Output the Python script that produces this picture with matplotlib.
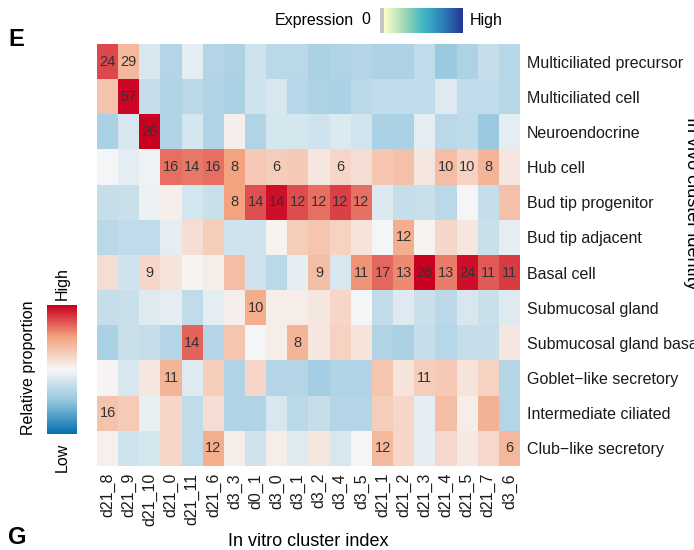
import matplotlib.pyplot as plt
import numpy as np
from matplotlib.colors import LinearSegmentedColormap

plt.rcParams['font.family'] = ['Liberation Sans', 'DejaVu Sans']

col_labels = ['d21_8', 'd21_9', 'd21_10', 'd21_0', 'd21_11', 'd21_6', 'd3_3', 'd0_1',
              'd3_0', 'd3_1', 'd3_2', 'd3_4', 'd3_5', 'd21_1', 'd21_2', 'd21_3',
              'd21_4', 'd21_5', 'd21_7', 'd3_6']
row_labels = ['Multiciliated precursor', 'Multiciliated cell', 'Neuroendocrine', 'Hub cell',
              'Bud tip progenitor', 'Bud tip adjacent', 'Basal cell', 'Submucosal gland',
              'Submucosal gland basal', 'Goblet\u2212like secretory', 'Intermediate ciliated',
              'Club\u2212like secretory']

# relative proportion (scaled, -1 low .. 1 high)
values = [
    [0.78, 0.38, -0.15, -0.33, -0.10, -0.33, -0.36, -0.20, -0.30, -0.30, -0.38, -0.35, -0.33, -0.36, -0.36, -0.27, -0.45, -0.36, -0.25, -0.32],
    [0.32, 0.98, -0.25, -0.35, -0.30, -0.35, -0.37, -0.20, -0.15, -0.32, -0.36, -0.37, -0.30, -0.27, -0.27, -0.27, -0.12, -0.27, -0.27, -0.32],
    [-0.37, -0.15, 1.00, -0.35, -0.17, -0.35, 0.05, -0.35, -0.17, -0.17, -0.20, -0.14, -0.18, -0.37, -0.37, -0.10, -0.30, -0.28, -0.45, -0.10],
    [-0.02, -0.10, -0.04, 0.66, 0.63, 0.66, 0.50, 0.28, 0.25, 0.28, 0.10, 0.20, 0.15, 0.30, 0.33, 0.10, 0.35, 0.22, 0.40, 0.10],
    [-0.25, -0.22, -0.05, 0.05, -0.17, -0.22, 0.50, 0.75, 0.95, 0.76, 0.66, 0.80, 0.65, -0.13, -0.25, -0.22, -0.30, -0.02, -0.25, 0.33],
    [-0.30, -0.27, -0.27, -0.10, 0.15, 0.25, -0.20, -0.20, 0.03, 0.25, 0.30, 0.22, 0.12, -0.02, 0.45, 0.03, 0.20, 0.10, -0.22, -0.10],
    [0.15, -0.20, 0.20, 0.12, 0.02, 0.06, 0.35, -0.20, -0.30, -0.10, 0.35, -0.15, 0.55, 0.68, 0.58, 1.00, 0.62, 0.95, 0.72, 0.82],
    [-0.25, -0.22, -0.12, -0.10, -0.27, -0.10, 0.05, 0.45, 0.06, 0.06, 0.10, 0.20, -0.02, -0.27, -0.12, -0.22, -0.30, -0.15, -0.22, -0.12],
    [-0.37, -0.22, -0.25, -0.33, 0.70, -0.33, 0.30, -0.02, 0.06, 0.40, 0.10, 0.22, 0.12, -0.35, -0.37, -0.25, -0.32, -0.25, -0.25, 0.10],
    [0.02, -0.15, 0.10, 0.40, -0.12, 0.25, -0.35, 0.20, -0.33, -0.33, -0.42, -0.35, -0.35, 0.30, 0.12, 0.25, 0.28, 0.12, 0.22, -0.33],
    [0.32, 0.27, -0.07, 0.20, -0.27, 0.15, -0.35, -0.35, -0.15, -0.30, -0.25, -0.33, -0.33, 0.25, 0.20, -0.10, 0.35, 0.06, 0.42, -0.33],
    [0.04, -0.20, -0.17, 0.20, -0.27, 0.45, 0.06, -0.20, 0.06, -0.12, 0.10, -0.15, -0.02, 0.38, 0.20, -0.10, 0.18, 0.08, 0.18, 0.38],
]

# numbers printed in the cells (0 = none)
counts = [
    [24, 29, 0, 0, 0, 0, 0, 0, 0, 0, 0, 0, 0, 0, 0, 0, 0, 0, 0, 0],
    [0, 57, 0, 0, 0, 0, 0, 0, 0, 0, 0, 0, 0, 0, 0, 0, 0, 0, 0, 0],
    [0, 0, 26, 0, 0, 0, 0, 0, 0, 0, 0, 0, 0, 0, 0, 0, 0, 0, 0, 0],
    [0, 0, 0, 16, 14, 16, 8, 0, 6, 0, 0, 6, 0, 0, 0, 0, 10, 10, 8, 0],
    [0, 0, 0, 0, 0, 0, 8, 14, 14, 12, 12, 12, 12, 0, 0, 0, 0, 0, 0, 0],
    [0, 0, 0, 0, 0, 0, 0, 0, 0, 0, 0, 0, 0, 0, 12, 0, 0, 0, 0, 0],
    [0, 0, 9, 0, 0, 0, 0, 0, 0, 0, 9, 0, 11, 17, 13, 26, 13, 24, 11, 11],
    [0, 0, 0, 0, 0, 0, 0, 10, 0, 0, 0, 0, 0, 0, 0, 0, 0, 0, 0, 0],
    [0, 0, 0, 0, 14, 0, 0, 0, 0, 8, 0, 0, 0, 0, 0, 0, 0, 0, 0, 0],
    [0, 0, 0, 11, 0, 0, 0, 0, 0, 0, 0, 0, 0, 0, 0, 11, 0, 0, 0, 0],
    [16, 0, 0, 0, 0, 0, 0, 0, 0, 0, 0, 0, 0, 0, 0, 0, 0, 0, 0, 0],
    [0, 0, 0, 0, 0, 12, 0, 0, 0, 0, 0, 0, 0, 12, 0, 0, 0, 0, 0, 6],
]

prop_cmap = LinearSegmentedColormap.from_list(
    'prop', ['#0571b0', '#92c5de', '#f7f7f7', '#f4a582', '#ca0020'])
expr_cmap = LinearSegmentedColormap.from_list(
    'expr', ['#ffffcc', '#a1dab4', '#41b6c4', '#2c7fb8', '#253494'])

W, H = 694, 550
fig = plt.figure(figsize=(W / 100, H / 100), dpi=100)


def box(x0, y0, x1, y1):
    # pixel box (top-left origin) -> figure fraction rect
    return [x0 / W, 1 - y1 / H, (x1 - x0) / W, (y1 - y0) / H]


fs = 11.5

# main heatmap
ax = fig.add_axes(box(97, 44, 520, 466))
ax.imshow(np.array(values), cmap=prop_cmap, vmin=-1, vmax=1,
          aspect='auto', interpolation='nearest')
for i, row in enumerate(counts):
    for j, c in enumerate(row):
        if c:
            ax.text(j, i, str(c), ha='center', va='center', fontsize=10.5, color='#333333')
ax.set_xticks(range(len(col_labels)))
ax.set_xticklabels(col_labels, rotation=90, fontsize=fs)
ax.set_yticks(range(len(row_labels)))
ax.set_yticklabels(row_labels, fontsize=fs)
ax.yaxis.tick_right()
ax.tick_params(length=0, pad=5, colors='#1a1a1a')
for s in ax.spines.values():
    s.set_visible(False)
ax.set_xlabel('In vitro cluster index', fontsize=13, labelpad=5)

fig.text(683 / W, 1 - 203 / H, 'In vivo cluster identity', rotation=270,
         ha='left', va='center', fontsize=13)

# relative proportion legend
cax = fig.add_axes(box(47, 305, 77, 434))
grad = np.linspace(1, -1, 200).reshape(-1, 1)
cax.imshow(grad, cmap=prop_cmap, vmin=-1, vmax=1, aspect='auto')
cax.set_axis_off()
fig.text(29 / W, 1 - 368 / H, 'Relative proportion', rotation=90,
         ha='center', va='center', fontsize=fs)
fig.text(62 / W, 1 - 284 / H, 'High', rotation=90, ha='center', va='center', fontsize=fs)
fig.text(62 / W, 1 - 457 / H, 'Low', rotation=90, ha='center', va='center', fontsize=fs)

# expression legend
gax = fig.add_axes(box(380, 8, 384, 33))
gax.set_facecolor('#c4c4c4')
gax.set_xticks([])
gax.set_yticks([])
for s in gax.spines.values():
    s.set_visible(False)
eax = fig.add_axes(box(384, 8, 463, 33))
eax.imshow(np.linspace(0, 1, 200).reshape(1, -1), cmap=expr_cmap, aspect='auto')
eax.set_axis_off()
fig.text(354 / W, 1 - 20 / H, 'Expression', ha='right', va='center', fontsize=fs)
fig.text(366 / W, 1 - 20 / H, '0', ha='center', va='center', fontsize=fs)
fig.text(470 / W, 1 - 20 / H, 'High', ha='left', va='center', fontsize=fs)

# panel letters
fig.text(8 / W, 1 - 40 / H, 'E', ha='left', va='center', fontsize=17, fontweight='bold')
fig.text(8 / W, 1 - 537 / H, 'G', ha='left', va='center', fontsize=17, fontweight='bold')

fig.savefig('out.png', dpi=100)
